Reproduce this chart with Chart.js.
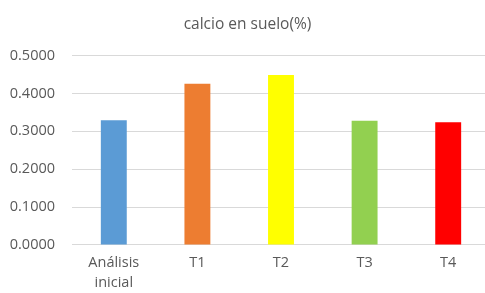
<!DOCTYPE html>
<html>
<head>
<meta charset="utf-8">
<script src="https://cdn.jsdelivr.net/npm/chart.js@4/dist/chart.umd.min.js"></script>
<style>
html,body{margin:0;padding:0;overflow:hidden;background:#fff;width:485px;height:293px;}
#wrap{width:502px;height:293px;}
</style>
</head>
<body>
<div id="wrap"><canvas id="c" width="502" height="293"></canvas></div>
<script>
const categories = [["Análisis","inicial"], "T1", "T2", "T3", "T4"];
const values = [0.329, 0.426, 0.449, 0.328, 0.324];
const barColors = ["#5b9bd5", "#ed7d31", "#ffff00", "#92d050", "#ff0000"];
const yTicks = [0, 0.1, 0.2, 0.3, 0.4, 0.5];
const titleText = "calcio en suelo(%)";

new Chart(document.getElementById('c'), {
  type: 'bar',
  data: {
    labels: categories,
    datasets: [{
      data: values,
      backgroundColor: barColors,
      borderWidth: 0,
      barPercentage: 0.62,
      categoryPercentage: 0.5
    }]
  },
  options: {
    responsive: false,
    animation: false,
    layout: { padding: { left: 5, right: 12, top: 15, bottom: -8 } },
    plugins: {
      legend: { display: false },
      tooltip: { enabled: false },
      title: {
        display: true,
        text: titleText,
        color: '#595959',
        font: { family: 'Open Sans', size: 15.5, weight: 'normal', lineHeight: 1.2 },
        padding: { top: 0, bottom: 22 }
      }
    },
    scales: {
      y: {
        min: 0, max: 0.5,
        afterBuildTicks: (axis) => { axis.ticks = yTicks.map(v => ({ value: v })); },
        afterFit: (axis) => { axis.width = 67; },
        ticks: {
          color: '#595959',
          font: { family: 'Open Sans', size: 14.5 },
          padding: 17,
          callback: (v) => Number(v).toFixed(4)
        },
        grid: { color: '#d9d9d9', lineWidth: 1, drawTicks: false },
        border: { display: false }
      },
      x: {
        ticks: {
          color: '#595959',
          font: { family: 'Open Sans', size: 14.5, lineHeight: 1.38 },
          padding: 8,
          maxRotation: 0
        },
        grid: { display: false, drawTicks: false },
        border: { display: false }
      }
    }
  }
});
</script>
</body>
</html>
